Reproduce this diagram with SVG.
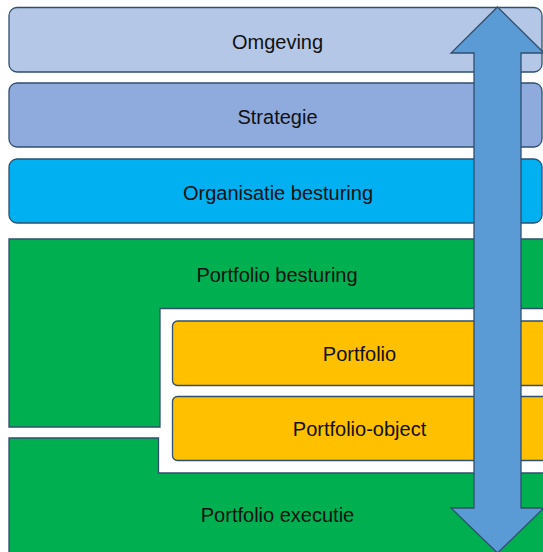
<svg xmlns="http://www.w3.org/2000/svg" width="543" height="552" viewBox="0 0 543 552">
<style>
.sh{stroke:#2f4f6f;stroke-width:1.3}
.t{font-family:"Liberation Sans",Arial,sans-serif;font-size:20px;fill:#111;text-anchor:middle}
</style>
<rect width="543" height="552" fill="#ffffff"/>
<g id="omgeving"><rect class="sh" x="9" y="7.5" width="533" height="64.5" rx="8" fill="#B4C7E7"/><text class="t" x="277.5" y="48.5">Omgeving</text></g>
<g id="strategie"><rect class="sh" x="9" y="83" width="533" height="64" rx="8" fill="#8FAADC"/><text class="t" x="277.5" y="123.5">Strategie</text></g>
<g id="organisatie-besturing"><rect class="sh" x="9" y="159" width="533" height="64" rx="8" fill="#00B0F0"/><text class="t" x="278" y="200">Organisatie besturing</text></g>
<g id="portfolio-besturing"><path class="sh" d="M9,239 H560 V308.5 H160 V427 H9 Z" fill="#00B050"/><text class="t" x="277" y="282">Portfolio besturing</text></g>
<g id="portfolio-executie"><path class="sh" d="M9,438 H158.5 V473 H560 V570 H9 Z" fill="#00B050"/><text class="t" x="277.5" y="522">Portfolio executie</text></g>
<g id="portfolio"><rect class="sh" x="172.5" y="321" width="390" height="64.5" rx="5" fill="#FFC000"/><text class="t" x="359.5" y="361">Portfolio</text></g>
<g id="portfolio-object"><rect class="sh" x="172.5" y="396.5" width="390" height="64" rx="5" fill="#FFC000"/><text class="t" x="359.5" y="436">Portfolio-object</text></g>
<g id="connectors"><path class="sh" d="M497.5,7 L544,53 H521 V508 H544 L497.5,553 L451,508 H474 V53 H451 Z" fill="#5B9BD5"/></g>
</svg>
